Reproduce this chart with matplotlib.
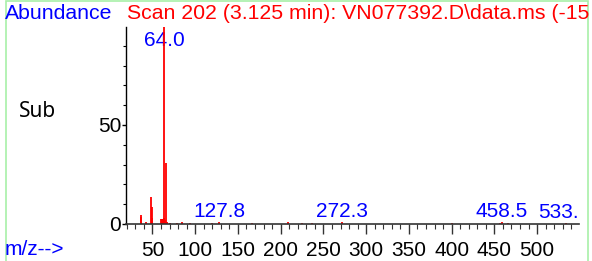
import matplotlib
matplotlib.use('Agg')
import matplotlib.pyplot as plt
from matplotlib.patches import Rectangle
from matplotlib.ticker import MultipleLocator

plt.rcParams['font.family'] = ['Liberation Sans', 'DejaVu Sans']

# --- spectrum (m/z, relative abundance) ---
mz = [36, 37, 42, 48, 49, 50, 60, 61, 62, 63, 64, 65, 66, 67, 70, 79, 84, 85,
      94, 120, 127.8, 167, 209, 225, 237, 272.3, 400, 457, 458.5, 466, 533.3]
abund = [4.5, 3.5, 0.8, 13.8, 3.0, 8.7, 2.5, 2.5, 2.5, 2.8, 100, 2.0, 30.6, 1.2,
         0.6, 0.7, 0.8, 0.5, 0.6, 0.4, 0.9, 0.4, 0.8, 0.5, 0.4, 0.9, 0.5, 0.4,
         0.9, 0.6, 0.5]

# --- labelled peaks ---
label_mz = [64.0, 127.8, 272.3, 458.5, 533.3]
label_text = ['64.0', '127.8', '272.3', '458.5', '533.']

title = 'Scan 202 (3.125 min): VN077392.D\\data.ms (-15'

fig = plt.figure(figsize=(5.92, 2.61), dpi=100)
ax = fig.add_axes([0.2128, 0.1418, 0.7652, 0.7548])

ax.vlines(mz, 0, abund, color='red', lw=1.3)

ax.set_xlim(19, 549)
ax.set_ylim(0, 99.5)
ax.xaxis.set_major_locator(MultipleLocator(50))
ax.xaxis.set_minor_locator(MultipleLocator(10))
ax.yaxis.set_major_locator(MultipleLocator(50))
ax.yaxis.set_minor_locator(MultipleLocator(10))
ax.tick_params(axis='x', which='major', length=7, width=1, direction='out',
               labelsize=15, pad=5.5, color='#333333')
ax.tick_params(axis='x', which='minor', length=3.6, width=0.8, direction='out',
               color='#333333')
ax.tick_params(axis='y', which='major', length=3, width=1, labelsize=15, pad=0.5)
ax.tick_params(axis='y', which='minor', length=2, width=0.8)

for s in ['top', 'right']:
    ax.spines[s].set_visible(False)
ax.spines['bottom'].set_color('#333333')
ax.spines['bottom'].set_linewidth(1.2)
ax.spines['left'].set_linewidth(1)

# peak labels
heights = dict(zip(mz, abund))
for m, t in zip(label_mz, label_text):
    h = heights[m]
    if h >= 99:
        ax.annotate(t, (m, ax.get_ylim()[1]), xytext=(0, -3), textcoords='offset points',
                    ha='center', va='top', color='blue', fontsize=15, zorder=1)
    else:
        dx = -5 if t.endswith('.') else 0
        ax.annotate(t, (m, h), xytext=(dx, 3.6), textcoords='offset points',
                    ha='center', va='baseline', color='blue', fontsize=15,
                    annotation_clip=False)

# header and side texts
fig.text(5 / 592, 1 - 19 / 261, 'Abundance', color='blue', fontsize=15.3, va='baseline')
fig.text(127 / 592, 1 - 19 / 261, title, color='red', fontsize=15.3, va='baseline')
fig.text(19 / 592, 1 - 117 / 261, 'Sub', color='black', fontsize=15,
         family='Noto Sans', va='baseline')
fig.text(5 / 592, 1 - 255 / 261, 'm/z-->', color='blue', fontsize=15, va='baseline')

# light green frame
fig.patches.append(Rectangle((5.5 / 592, -0.05), (588 - 5.5) / 592, 1.05 - 0.5 / 261,
                             transform=fig.transFigure, fill=False,
                             edgecolor='#a8f0a8', lw=1.2))

fig.savefig('out.png', dpi=100)
